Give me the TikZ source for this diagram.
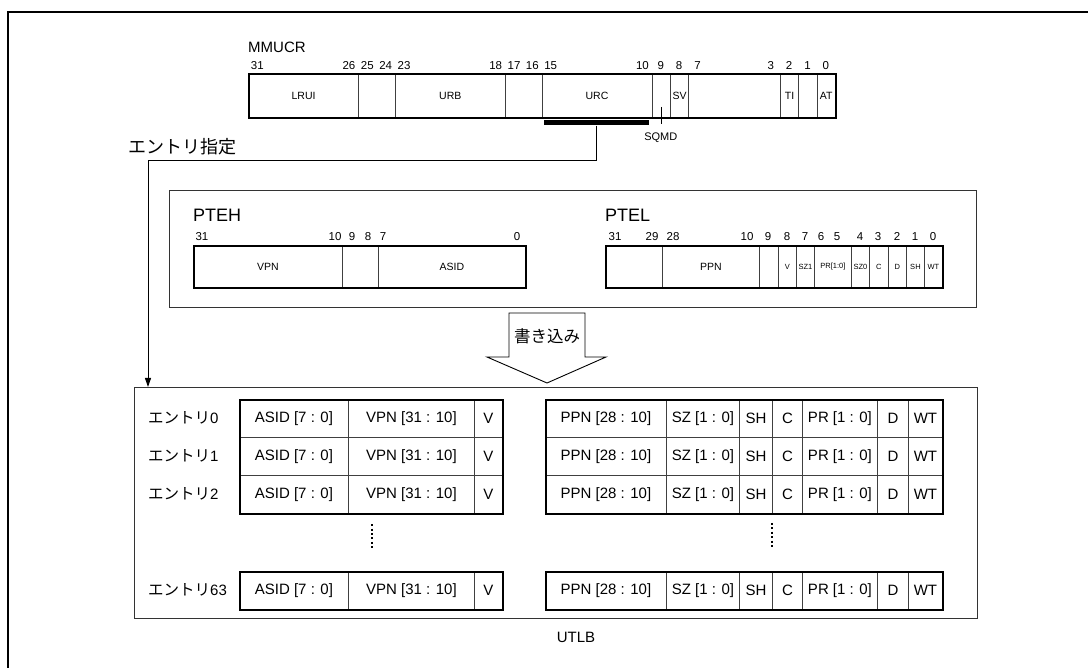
\documentclass[tikz,border=0pt]{standalone}
\usepackage{fontspec}
\setmainfont{Liberation Sans}
\newfontfamily\jpfont{Noto Sans CJK JP}
\usetikzlibrary{arrows.meta,positioning}
\newcommand\fs[1]{\fontsize{#1}{#1}\selectfont}
\newcommand\sm[1]{{\fs{7.5}#1}}

\begin{document}
\begin{tikzpicture}[x=1pt,y=-1pt,
  outerline/.style={line width=2.6pt},
  regbox/.style={draw,line width=2.2pt,inner sep=0pt,anchor=north west},
  fld/.style={draw=black!75,line width=0.9pt,inner sep=0pt,anchor=north west,font=\fs{10.5}},
  bitno/.style={anchor=base,inner sep=0pt,font=\fs{11.5}},
  regname/.style={anchor=base west,inner sep=0pt,font=\fs{15}},
  pbox/.style={draw=black!80,line width=1.2pt,inner sep=0pt,anchor=north west},
  cell/.style={draw=black!75,line width=0.9pt,inner sep=0pt,anchor=north west,minimum height=38,font=\fs{15}},
  tbl/.style={draw,line width=2.2pt,inner sep=0pt,anchor=north west},
  lbl/.style={inner sep=0pt,font=\fs{15}},
  vdots/.style={line width=2.2pt,dash pattern=on 2pt off 2.4pt},
  arrow/.style={-{Triangle[length=9pt,width=6pt]},line width=1pt}
]
  \useasboundingbox (0,0) rectangle (1088,668);
  \draw[outerline] (8,668) |- (1088,12);

  % MMUCR
  \node[regname] (mmucr) at (248,53) {MMUCR};
  \foreach \n in {31,26,25,24,23,18,17,16,15,10,9,8,7,3,2,1,0}
    \node[bitno] (m\n) at ({835-(\n+0.5)*18.34},70) {\n};
  \foreach \hi/\lo/\t/\nm in {32/26/LRUI/lrui,26/24/{}/e1,24/18/URB/urb,18/16/{}/e2,16/10/URC/urc,
                              10/9/{}/sqmd,9/8/SV/sv,8/3/{}/e3,3/2/TI/ti,2/1/{}/e4,1/0/AT/at}
    \node[fld,minimum width={(\hi-\lo)*18.34},minimum height=44] (\nm) at ({835-\hi*18.34},73) {\t};
  \node[regbox,minimum width=587,minimum height=44] (mreg) at (248,73) {};
  \node[bitno,font=\fs{11}] (sqmdt) at ({835-9.5*18.34},141) {SQMD};
  \draw[line width=0.9pt] ([yshift=11pt]sqmd.south) -- ([yshift=-6pt]sqmd.south);
  \node[fill=black,inner sep=0pt,minimum width=105,minimum height=5] (bar) at (596.5,123) {};
  \node[lbl,font=\jpfont\fs{18}] (sel) at (182,147) {エントリ指定};

  % PTEH / PTEL
  \node[pbox,minimum width=807,minimum height=117] (pte) at (169,190) {};
  \node[regname,font=\fs{18}] (pteh) at (193,222) {PTEH};
  \foreach \n/\x in {31/202,10/335,9/352,8/368,7/383,0/517}
    \node[bitno] (h\n) at (\x,241) {\n};
  \foreach \xa/\xb/\t [count=\i] in {193/342/VPN,342/378/{},378/525/ASID}
    \node[fld,minimum width={\xb-\xa},minimum height=42] (hf\i) at (\xa,245) {\t};
  \node[regbox,minimum width=332,minimum height=42] (hreg) at (193,245) {};

  \node[regname,font=\fs{18}] (ptel) at (605,222) {PTEL};
  \foreach \n/\x in {31/615,29/652,28/673,10/747,9/768,8/787,7/805,6/821,5/837,4/860,3/878,2/897,1/915,0/933}
    \node[bitno] (p\n) at (\x,241) {\n};
  \foreach \xa/\xb/\t [count=\i] in {605/662/{},662/759/PPN,759/778/{},778/796/\sm{V},796/814/\sm{SZ1},
                                     814/851/\sm{PR[1:0]},851/869/\sm{SZ0},869/888/\sm{C},888/906/\sm{D},
                                     906/924/\sm{SH},924/942/\sm{WT}}
    \node[fld,minimum width={\xb-\xa},minimum height=42] (pf\i) at (\xa,245) {\t};
  \node[regbox,minimum width=337,minimum height=42] (preg) at (605,245) {};

  % write arrow
  \draw[line width=0.9pt,fill=white] (509,313) -- (585,313) -- (585,357) -- (606,357)
    -- (547,383) -- (487,357) -- (509,357) -- cycle;
  \node[lbl,font=\jpfont\fs{16.5}] (wr) at (547,336) {書き込み};

  % UTLB
  \node[pbox,minimum width=843,minimum height=231] (utlb) at (134,387) {};
  \node[lbl] (utlbl) at (576,637) {UTLB};
  \foreach \y/\r in {418/0,456/1,494/2,590/63}
    \node[lbl,anchor=west] (ent\r) at (148,\y) {{\jpfont\fs{15.5}エントリ}\r};
  \foreach \y/\r in {399/0,437/1,475/2,571/63}{
    \foreach \xa/\xb/\t [count=\c] in {239/348/{ASID [7 : 0]},348/474/{VPN [31 : 10]},474/502/V}
      \node[cell,minimum width={\xb-\xa}] (a\r-\c) at (\xa,\y) {\t};
    \foreach \xa/\xb/\t [count=\c] in {545/666/{PPN [28 : 10]},666/739/{SZ [1 : 0]},739/772/SH,772/802/C,
                                       802/877/{PR [1 : 0]},877/908/D,908/942/WT}
      \node[cell,minimum width={\xb-\xa}] (b\r-\c) at (\xa,\y) {\t};
  }
  \node[tbl,minimum width=263,minimum height=114] (ahi) at (239,399) {};
  \node[tbl,minimum width=263,minimum height=38] (alo) at (239,571) {};
  \node[tbl,minimum width=397,minimum height=114] (bhi) at (545,399) {};
  \node[tbl,minimum width=397,minimum height=38] (blo) at (545,571) {};
  \draw[vdots] ([yshift=-9pt]ahi.south) -- ([yshift=-34pt]ahi.south);
  \draw[vdots] ([yshift=-9pt]b2-4.south west) -- ([yshift=-34pt]b2-4.south west);

  % entry select
  \coordinate (turn) at (148,161);
  \draw[arrow] (bar.south) |- (turn) -- (turn |- utlb.north);
\end{tikzpicture}
\end{document}
